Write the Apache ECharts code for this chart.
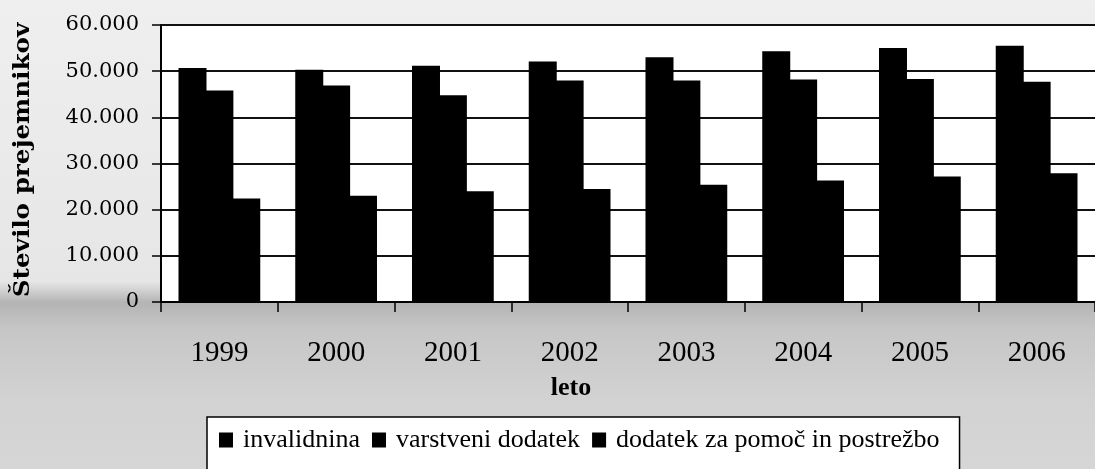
<!DOCTYPE html>
<html>
<head>
<meta charset="utf-8">
<style>
  html, body { margin: 0; padding: 0; }
  #chart { width: 1095px; height: 469px; }
</style>
<script src="https://cdn.jsdelivr.net/npm/echarts@6/dist/echarts.min.js"></script>
</head>
<body>
<div id="chart"></div>
<script>
// ---- data ----
const years = ['1999', '2000', '2001', '2002', '2003', '2004', '2005', '2006'];
const seriesNames = ['invalidnina', 'varstveni dodatek', 'dodatek za pomoč in postrežbo'];
const invalidnina = [50700, 50300, 51200, 52100, 53000, 54300, 55000, 55500];
const varstveniDodatek = [45800, 46900, 44800, 48000, 48000, 48200, 48300, 47700];
const dodatekZaPomoc = [22400, 23000, 24000, 24500, 25400, 26300, 27200, 27900];
const yTicks = [0, 10000, 20000, 30000, 40000, 50000, 60000];
const yAxisTitle = 'Število prejemnikov';
const xAxisTitle = 'leto';

const fmt = v => String(v).replace(/\B(?=(\d{3})+(?!\d))/g, '.');

const chart = echarts.init(document.getElementById('chart'), null, { renderer: 'canvas' });

const barStyle = (name, data) => ({
  name: name,
  type: 'bar',
  data: data,
  barWidth: 28,
  barGap: '-4%',
  itemStyle: { color: '#000000' }
});

chart.setOption({
  animation: false,
  backgroundColor: {
    type: 'linear', x: 0, y: 0, x2: 0, y2: 1,
    colorStops: [
      { offset: 0, color: '#efefef' },
      { offset: 0.60, color: '#e6e6e6' },
      { offset: 0.645, color: '#b4b4b4' },
      { offset: 0.70, color: '#c6c6c6' },
      { offset: 0.85, color: '#d2d2d2' },
      { offset: 1, color: '#d6d6d6' }
    ]
  },
  grid: {
    left: 161, top: 25, width: 944, bottom: 167,
    show: true, backgroundColor: '#ffffff', borderWidth: 0,
    containLabel: false
  },
  legend: {
    data: seriesNames,
    left: 207, top: 417,
    orient: 'horizontal',
    padding: [10, 20, 40, 12],
    itemGap: 12,
    itemWidth: 14, itemHeight: 15,
    icon: 'rect',
    backgroundColor: '#ffffff',
    borderColor: '#000000', borderWidth: 1.5,
    textStyle: { fontFamily: 'Liberation Serif', fontSize: 26, color: '#000000', padding: [0, 0, 0, 5] }
  },
  xAxis: {
    type: 'category',
    data: years,
    boundaryGap: true,
    axisLine: { show: true, lineStyle: { color: '#000000', width: 2 } },
    axisTick: { show: true, length: 10, lineStyle: { color: '#000000', width: 1.5 } },
    axisLabel: { fontFamily: 'Liberation Serif', fontSize: 29, color: '#000000', margin: 37 },
    splitLine: { show: false }
  },
  yAxis: {
    type: 'value',
    min: yTicks[0], max: yTicks[yTicks.length - 1], interval: yTicks[1] - yTicks[0],
    axisLine: { show: true, lineStyle: { color: '#000000', width: 2 } },
    axisTick: { show: true, length: 9, lineStyle: { color: '#000000', width: 1.5 } },
    axisLabel: { fontFamily: 'DejaVu Serif', fontSize: 21, color: '#000000', margin: 22, formatter: fmt },
    splitLine: { show: true, lineStyle: { color: '#111111', width: 2 } }
  },
  graphic: [
    {
      type: 'text',
      x: 23, y: 160,
      rotation: Math.PI / 2,
      scaleX: 1.12,
      style: {
        text: yAxisTitle,
        fontFamily: 'DejaVu Serif', fontWeight: 'bold', fontSize: 22,
        fill: '#000000', align: 'center', verticalAlign: 'middle'
      }
    },
    {
      type: 'text',
      x: 571, y: 388,
      style: {
        text: xAxisTitle,
        fontFamily: 'Liberation Serif', fontWeight: 'bold', fontSize: 26,
        fill: '#000000', align: 'center', verticalAlign: 'middle'
      }
    }
  ],
  series: [
    barStyle(seriesNames[0], invalidnina),
    barStyle(seriesNames[1], varstveniDodatek),
    barStyle(seriesNames[2], dodatekZaPomoc)
  ]
});
</script>
</body>
</html>
